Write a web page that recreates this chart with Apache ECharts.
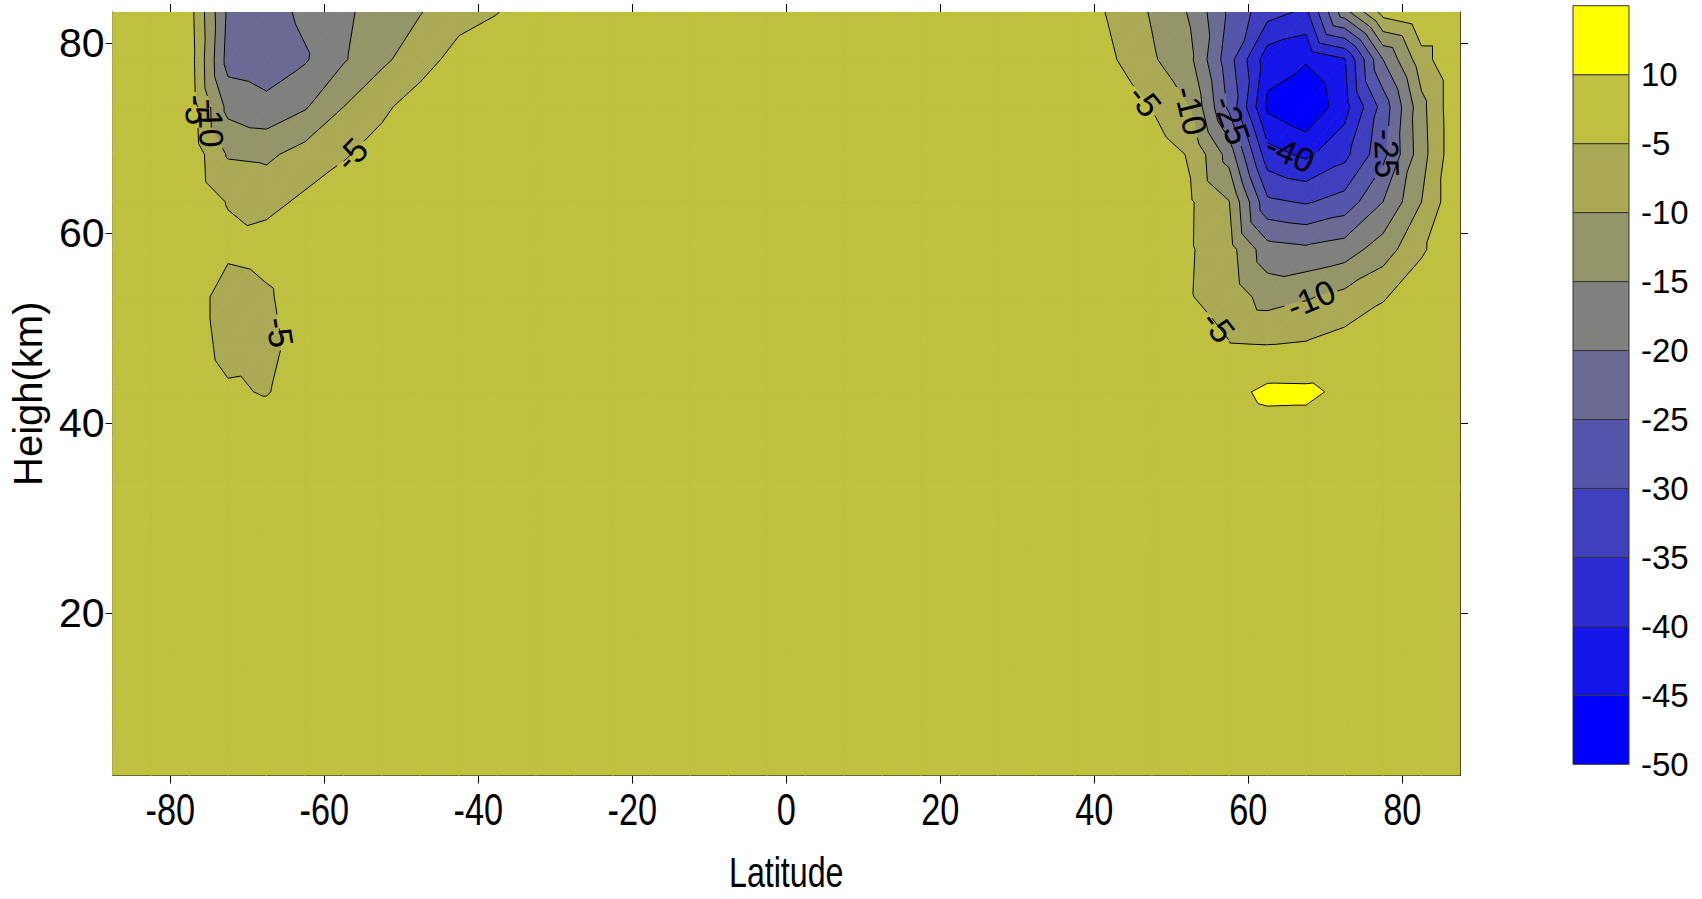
<!DOCTYPE html>
<html>
<head>
<meta charset="utf-8">
<title>Heigh / Latitude contour</title>
<script src="https://cdn.jsdelivr.net/npm/echarts@6/dist/echarts.min.js"></script>
<style>
  html, body { margin: 0; padding: 0; background: #ffffff; }
  #chart { width: 1702px; height: 899px; }
</style>
</head>
<body>
<div id="chart"></div>
<script>
// ---- grid nodes -------------------------------------------------------
const latitudes = [-87.5, -82.5, -77.5, -72.5, -67.5, -62.5, -57.5, -52.5, -47.5, -42.5, -37.5, -32.5,
                   -27.5, -22.5, -17.5, -12.5, -7.5, -2.5, 2.5, 7.5, 12.5, 17.5, 22.5, 27.5,
                   32.5, 37.5, 42.5, 47.5, 52.5, 57.5, 62.5, 67.5, 72.5, 77.5, 82.5, 87.5];
const heights = [2.9, 33.3, 38.3, 43.3, 48.3, 53.3, 58.3, 63.3, 68.3, 73.3, 78.3, 83.3];

// ---- field values, one row per height, west to east --------------------
const row2_9  = [0,0,0,0,0,0,0,0,0,0,0,0, 0,0,0,0,0,0,0,0,0,0,0,0,0, 0,0,0,0,0,0,0,0,0,0,0];
const row33_3 = [0,0,0,0,0,0,0,0,0,0,0,0, 0,0,0,0,0,0,0,0,0,0,0,0,0, 0,0,0,0,0,0,0,0,0,0,0];
const row38_3 = [0,0,0,0,0,0,0,0,0,0,0,0, 0,0,0,0,0,0,0,0,0,0,0,0,0, 0,0,0,0,0,2.3,2.3,0,0,0,0];
const row43_3 = [0,0,0,-4,-5.5,-1,0,0,0,0,0,0, 0,0,0,0,0,0,0,0,0,0,0,0,0, 0,0,0,1,5.4,13.3,13,6.8,1,0,0];
const row48_3 = [0,0,-1,-7.5,-7,-2,0,0,0,0,0,0, 0,0,0,0,0,0,0,0,0,0,0,0,0, 0,0,0,-2.5,-4.8,-5.1,-4.6,-3,-1,0,0];
const row53_3 = [0,0,-1,-8.5,-6,-1,0,0,0,0,0,0, 0,0,0,0,0,0,0,0,0,0,0,0,0, 0,0,0,-4.8,-7,-12,-10.5,-8.5,-5.5,-1.5,0];
const row58_3 = [0,0,-0.5,-3.5,-2.5,-0.5,0,0,0,0,0,0, 0,0,0,0,0,0,0,0,0,0,0,0,0, 0,0,0,-4.6,-8,-18,-19,-17.5,-12.5,-5.8,0];
const row63_3 = [0,0,-1,-5.3,-6.5,-4,-2,-1,0,0,0,0, 0,0,0,0,0,0,0,0,0,0,0,0,0, 0,0,-1,-4.5,-9.8,-29,-30.5,-28,-20,-10,0];
const row68_3 = [0,0,-1.5,-10.5,-11,-8,-5.5,-3,-1,0,0,0, 0,0,0,0,0,0,0,0,0,0,0,0,0, 0,0,-2,-5.5,-17,-38,-41,-36.5,-26.5,-12,0];
const row73_3 = [0,0,-2,-16.5,-18.5,-15.5,-10,-6,-2.5,-0.5,0,0, 0,0,0,0,0,0,0,0,0,0,0,0,0, 0,-1,-5.2,-10.2,-26,-46,-49.5,-42,-28,-11.5,0];
const row78_3 = [0,0,-2.5,-22,-23,-20.5,-15.5,-11,-7.2,-3,-0.5,0, 0,0,0,0,0,0,0,0,0,0,0,0,0, 0,-4.6,-9.3,-14,-28,-43,-44.5,-40.5,-20,-7,0];
const row83_3 = [0,0,-3,-21,-22,-19,-16.5,-11.5,-10.2,-7,-5.2,-1, 0,0,0,0,0,0,0,0,0,0,0,0,0, -1.5,-6,-10.5,-15.5,-26,-33,-36,-17,-3,0,0];

// ---- contour levels, ticks and on-line labels -------------------------
const levels = [-50, -45, -40, -35, -30, -25, -20, -15, -10, -5, 10];
const latTicks = [-80, -60, -40, -20, 0, 20, 40, 60, 80];
const heightTicks = [20, 40, 60, 80];
const latRange = [-87.5, 87.5];
const heightRange = [2.9, 83.3];
const contourLabels = [
  { level: -5,  lat: 46.6,  h: 74.0 },
  { level: -10, lat: 52.0,  h: 72.8 },
  { level: -25, lat: 57.8,  h: 71.9 },
  { level: -40, lat: 65.8,  h: 69.1 },
  { level: -25, lat: 78.1,  h: 68.4 },
  { level: -10, lat: 68.4,  h: 52.6 },
  { level: -5,  lat: 54.4,  h: 49.1 },
  { level: -5,  lat: -56.2, h: 68.1 },
  { level: -5,  lat: -66.3, h: 49.5 },
  { level: -10, lat: -74.7, h: 71.6 },
  { level: -5,  lat: -76.3, h: 73.0 }
];

const field = [row2_9, row33_3, row38_3, row43_3, row48_3, row53_3, row58_3,
               row63_3, row68_3, row73_3, row78_3, row83_3];

const REG_FONT = "'Liberation Sans', Arial, Helvetica, sans-serif";

// yellow-to-blue ramp; each band takes the colour of its lower level
function rampColor(v) {
  const t = Math.max(0, Math.min(1, (v - levels[0]) / (levels[levels.length - 1] - levels[0])));
  const rg = Math.round(255 * t), b = 255 - rg;
  return 'rgb(' + rg + ',' + rg + ',' + b + ')';
}

// ---- triangulate the grid ---------------------------------------------
const tris = [];
for (let j = 0; j < heights.length - 1; j++) {
  for (let i = 0; i < latitudes.length - 1; i++) {
    const node = (ii, jj) => ({ x: latitudes[ii], y: heights[jj], v: field[jj][ii] });
    const a = node(i, j), b = node(i + 1, j), c = node(i + 1, j + 1), d = node(i, j + 1);
    tris.push([a, b, c], [a, c, d]);
  }
}

function clipPoly(poly, L, keepAbove) {
  const out = [];
  for (let k = 0; k < poly.length; k++) {
    const p = poly[k], q = poly[(k + 1) % poly.length];
    const dp = keepAbove ? p.v - L : L - p.v;
    const dq = keepAbove ? q.v - L : L - q.v;
    if (dp >= 0) out.push(p);
    if ((dp >= 0) !== (dq >= 0)) {
      const t = dp / (dp - dq);
      out.push({ x: p.x + t * (q.x - p.x), y: p.y + t * (q.y - p.y), v: L });
    }
  }
  return out;
}

// filled bands
const nBands = levels.length;
const fillPolys = [];
tris.forEach(tri => {
  for (let b = 0; b < nBands; b++) {
    let poly = tri;
    if (b > 0) poly = clipPoly(poly, levels[b], true);
    if (poly.length >= 3 && b < nBands - 1) poly = clipPoly(poly, levels[b + 1], false);
    if (poly.length >= 3) {
      fillPolys.push({ color: rampColor(levels[b]), pts: poly.map(p => [p.x, p.y]) });
    }
  }
});

// contour line pieces
const segments = [];
levels.slice(1).forEach(L => {
  tris.forEach(tri => {
    const pts = [];
    for (let k = 0; k < 3; k++) {
      const p = tri[k], q = tri[(k + 1) % 3];
      if ((p.v >= L) !== (q.v >= L)) {
        const t = (L - p.v) / (q.v - p.v);
        pts.push([p.x + t * (q.x - p.x), p.y + t * (q.y - p.y)]);
      }
    }
    if (pts.length === 2) segments.push({ level: L, a: pts[0], b: pts[1] });
  });
});

// gaps cut into lines where labels sit (pixel space, filled in after layout)
let gaps = [];

function visibleParts(p1, p2, level) {
  let parts = [[0, 1]];
  const dx = p2[0] - p1[0], dy = p2[1] - p1[1];
  const A = dx * dx + dy * dy;
  if (A < 1e-9) return parts;
  gaps.forEach(g => {
    if (g.level !== level) return;
    const fx = p1[0] - g.cx, fy = p1[1] - g.cy;
    const B = 2 * (fx * dx + fy * dy), C = fx * fx + fy * fy - g.r * g.r;
    const disc = B * B - 4 * A * C;
    if (disc <= 0) return;
    const s = Math.sqrt(disc);
    const t0 = (-B - s) / (2 * A), t1 = (-B + s) / (2 * A);
    const next = [];
    parts.forEach(([u, v]) => {
      if (t1 <= u || t0 >= v) { next.push([u, v]); return; }
      if (t0 > u) next.push([u, t0]);
      if (t1 < v) next.push([t1, v]);
    });
    parts = next;
  });
  return parts;
}

const chart = echarts.init(document.getElementById('chart'), null, { renderer: 'svg' });

function buildOption(graphicEls) {
  const frameLine = { show: true, onZero: false, lineStyle: { color: '#000', width: 1 } };
  return {
    animation: false,
    backgroundColor: '#ffffff',
    grid: [
      { left: 108, top: 12, width: 1352, height: 763.5, show: false },
      { left: 1573, top: 5.7, width: 56, height: 758.6, show: false }
    ],
    xAxis: [
      {
        gridIndex: 0, type: 'value', min: latRange[0], max: latRange[1], position: 'bottom',
        axisLine: frameLine,
        axisTick: { show: true, length: 8, customValues: latTicks, lineStyle: { color: '#000', width: 1 } },
        axisLabel: { show: false },
        splitLine: { show: false }
      },
      {
        gridIndex: 0, type: 'value', min: latRange[0], max: latRange[1], position: 'top',
        axisLine: frameLine,
        axisTick: { show: true, length: 8, customValues: latTicks, lineStyle: { color: '#000', width: 1 } },
        axisLabel: { show: false },
        splitLine: { show: false }
      },
      { gridIndex: 1, type: 'value', min: 0, max: 1, show: false }
    ],
    yAxis: [
      {
        gridIndex: 0, type: 'value', min: heightRange[0], max: heightRange[1], position: 'left',
        axisLine: frameLine,
        axisTick: { show: true, length: 7, customValues: heightTicks, lineStyle: { color: '#000', width: 1 } },
        axisLabel: { customValues: heightTicks, fontFamily: REG_FONT, fontSize: 41, color: '#000', margin: 8 },
        splitLine: { show: false },
        name: 'Heigh(km)', nameLocation: 'middle', nameGap: 52, nameRotate: 90,
        nameTextStyle: { fontFamily: REG_FONT, fontSize: 40, color: '#000' }
      },
      {
        gridIndex: 0, type: 'value', min: heightRange[0], max: heightRange[1], position: 'right',
        axisLine: frameLine,
        axisTick: { show: true, length: 8, customValues: heightTicks, lineStyle: { color: '#000', width: 1 } },
        axisLabel: { show: false },
        splitLine: { show: false }
      },
      {
        gridIndex: 1, type: 'value', min: 0, max: nBands, interval: 1, position: 'right',
        axisLine: { show: false }, axisTick: { show: false }, splitLine: { show: false },
        axisLabel: {
          fontFamily: REG_FONT, fontSize: 33, color: '#000', margin: 12,
          formatter: v => (v < levels.length ? String(levels[v]) : '')
        }
      }
    ],
    series: [
      {
        type: 'custom', name: 'bands', xAxisIndex: 0, yAxisIndex: 0, clip: true, silent: true, z: 1,
        data: fillPolys.map(p => [p.pts[0][0], p.pts[0][1]]),
        encode: { x: 0, y: 1 },
        renderItem: (params, api) => {
          const p = fillPolys[params.dataIndex];
          return {
            type: 'polygon',
            shape: { points: p.pts.map(q => api.coord(q)) },
            style: { fill: p.color, stroke: p.color, lineWidth: 0.8 }
          };
        }
      },
      {
        type: 'custom', name: 'contours', xAxisIndex: 0, yAxisIndex: 0, clip: true, silent: true, z: 3,
        data: segments.map(s => [s.a[0], s.a[1]]),
        encode: { x: 0, y: 1 },
        renderItem: (params, api) => {
          const s = segments[params.dataIndex];
          const p1 = api.coord(s.a), p2 = api.coord(s.b);
          const children = visibleParts(p1, p2, s.level).map(([u, v]) => ({
            type: 'line',
            shape: {
              x1: p1[0] + u * (p2[0] - p1[0]), y1: p1[1] + u * (p2[1] - p1[1]),
              x2: p1[0] + v * (p2[0] - p1[0]), y2: p1[1] + v * (p2[1] - p1[1])
            },
            style: { stroke: '#000', lineWidth: 1 }
          }));
          return { type: 'group', children };
        }
      },
      {
        type: 'custom', name: 'colorbar', xAxisIndex: 2, yAxisIndex: 2, silent: true, z: 2,
        data: levels.map((L, k) => [0, k]),
        encode: { x: 0, y: 1 },
        renderItem: (params, api) => {
          const k = params.dataIndex;
          const p0 = api.coord([0, k]), p1 = api.coord([1, k + 1]);
          return {
            type: 'rect',
            shape: { x: p0[0], y: p1[1], width: p1[0] - p0[0], height: p0[1] - p1[1] },
            style: { fill: rampColor(levels[k]), stroke: '#333', lineWidth: 1 }
          };
        }
      }
    ],
    graphic: graphicEls || []
  };
}

chart.setOption(buildOption([]));

const toPx = pt => chart.convertToPixel({ gridIndex: 0 }, pt);
const graphicEls = [];

// condensed latitude tick labels and axis title under the frame
const X_FONT = 44, X_SQUEEZE = 0.78;
latTicks.forEach(v => {
  const p = toPx([v, heightRange[0]]);
  graphicEls.push({
    type: 'text', x: p[0], y: p[1] + 34, scaleX: X_SQUEEZE, silent: true, z: 10,
    style: { text: String(v), fill: '#000', fontSize: X_FONT, fontFamily: REG_FONT, align: 'center', verticalAlign: 'middle' }
  });
});
{
  const pl = toPx([latRange[0], heightRange[0]]), pr = toPx([latRange[1], heightRange[0]]);
  graphicEls.push({
    type: 'text', x: (pl[0] + pr[0]) / 2, y: pl[1] + 97, scaleX: X_SQUEEZE * 0.96, silent: true, z: 10,
    style: { text: 'Latitude', fill: '#000', fontSize: 43, fontFamily: REG_FONT, align: 'center', verticalAlign: 'middle' }
  });
}

// place each label on the nearest piece of its contour, aligned with it
const LABEL_SIZE = 34;
contourLabels.forEach(spec => {
  const anchor = toPx([spec.lat, spec.h]);
  let best = null;
  segments.forEach(s => {
    if (s.level !== spec.level) return;
    const p1 = toPx(s.a), p2 = toPx(s.b);
    const dx = p2[0] - p1[0], dy = p2[1] - p1[1];
    const len2 = dx * dx + dy * dy;
    let t = len2 > 0 ? ((anchor[0] - p1[0]) * dx + (anchor[1] - p1[1]) * dy) / len2 : 0;
    t = Math.max(0, Math.min(1, t));
    const px = p1[0] + t * dx, py = p1[1] + t * dy;
    const d = Math.hypot(anchor[0] - px, anchor[1] - py);
    if (!best || d < best.d) best = { d, px, py, ang: Math.atan2(dy, dx) };
  });
  if (!best) return;
  let ang = best.ang;
  if (ang > Math.PI / 2) ang -= Math.PI;
  if (ang <= -Math.PI / 2) ang += Math.PI;
  const text = String(spec.level);
  const w = LABEL_SIZE * (0.333 + 0.556 * (text.length - 1));
  gaps.push({ level: spec.level, cx: best.px, cy: best.py, r: w / 2 + 3 });
  graphicEls.push({
    type: 'text', x: best.px, y: best.py, rotation: -ang, z: 10, silent: true,
    style: {
      text, fill: '#000', fontSize: LABEL_SIZE, fontFamily: REG_FONT,
      align: 'center', verticalAlign: 'middle'
    }
  });
});

chart.setOption(buildOption(graphicEls), true);
</script>
</body>
</html>
